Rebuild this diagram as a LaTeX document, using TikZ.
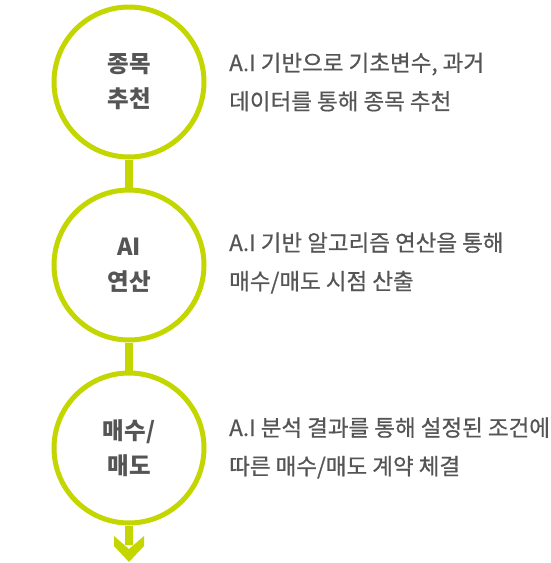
\documentclass[tikz,border=0pt]{standalone}
\usepackage{fontspec}
\setmainfont{Noto Sans CJK KR}
\newfontfamily\medfont{Noto Sans CJK KR}[FakeBold=0.6]
\definecolor{lime}{HTML}{C3D600}
\definecolor{txt}{HTML}{555555}
\begin{document}
\begin{tikzpicture}[x=1pt,y=-1pt,
  stepcircle/.style={circle,draw=lime,line width=5pt,minimum size=150pt,inner sep=0pt,fill=white,
    text=txt,font=\fontsize{23.5}{35}\selectfont\bfseries,align=center},
  desc/.style={anchor=west,text=txt,font=\medfont\fontsize{22.5}{38.5}\selectfont,align=left,inner sep=0pt},
  link/.style={draw=lime,line width=8pt}]
\useasboundingbox (0,0) rectangle (550,563);
\node[stepcircle] (c1) at (129,82) {종목\\추천};
\node[stepcircle] (c2) at (129,265) {AI\\연산};
\node[stepcircle] (c3) at (129,448) {매수/\\매도};
\draw[link] (c1.south) -- (c2.north);
\draw[link] (c2.south) -- (c3.north);
\coordinate (tip) at (129,562);
\draw[link] (c3.south) -- (129,545);
\fill[lime] (114,536) -- (129,549) -- (144,536) -- (144,546) -- (tip) -- (114,546) -- cycle;
\node[desc] (t1) at (229,82) {A.I 기반으로 기초변수, 과거\\데이터를 통해 종목 추천};
\node[desc] (t2) at (229,263) {A.I 기반 알고리즘 연산을 통해\\매수/매도 시점 산출};
\node[desc] (t3) at (229,448) {A.I 분석 결과를 통해 설정된 조건에\\따른 매수/매도 계약 체결};
\end{tikzpicture}
\end{document}
